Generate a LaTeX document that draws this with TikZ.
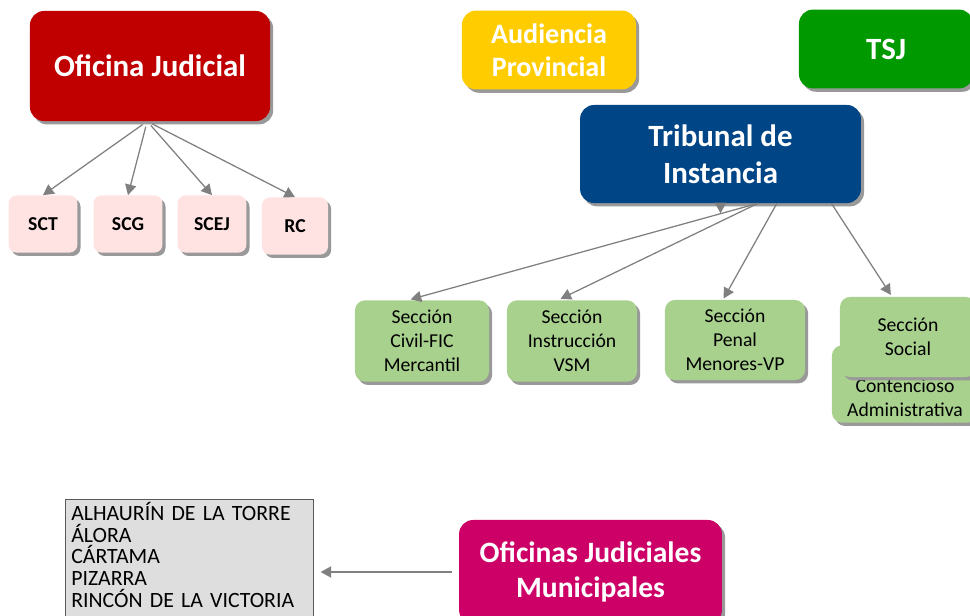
\documentclass[tikz,border=0pt]{standalone}
\usepackage{fontspec}
\setmainfont{Carlito}
\usetikzlibrary{arrows.meta,shadows}

\definecolor{rojoOJ}{HTML}{C00000}
\definecolor{rosaOJ}{HTML}{FFE3E3}
\definecolor{amarilloAP}{HTML}{FFCC00}
\definecolor{verdeTSJ}{HTML}{009900}
\definecolor{azulTI}{HTML}{004586}
\definecolor{verdeSec}{HTML}{A9D18E}
\definecolor{magentaOJM}{HTML}{CC0066}
\definecolor{grisLista}{HTML}{DEDEDE}

\tikzset{
	caja/.style={rounded corners=0.35cm, align=center, inner sep=0pt,
		drop shadow={shadow xshift=2.2pt, shadow yshift=-2.4pt, fill=black!40, opacity=1}},
	titulo/.style={caja, text=white, font=\bfseries\fontsize{22}{26.5}\selectfont},
	servicio/.style={caja, rounded corners=0.2cm, fill=rosaOJ, font=\bfseries\fontsize{14}{17}\selectfont,
		minimum width=1.72cm, minimum height=1.43cm},
	seccion/.style={caja, rounded corners=0.25cm, fill=verdeSec, font=\fontsize{14}{17}\selectfont,
		minimum height=2.03cm},
	flecha/.style={draw=black!50, line width=0.9pt, -{Triangle[width=8pt,length=7.5pt]}},
}

\begin{document}
\begin{tikzpicture}[x=0.025cm, y=-0.025cm]
	\useasboundingbox (0,0) rectangle (970,616);
	\clip (0,0) rectangle (970,616);
	
	% Oficina Judicial y sus servicios
	\node[titulo, fill=rojoOJ, minimum width=6cm, minimum height=2.75cm] (ofi) at (150,66) {Oficina Judicial};
	\node[servicio] (sct) at (43,224) {SCT};
	\node[servicio] (scg) at (128,224) {SCG};
	\node[servicio] (scej) at (212,224) {SCEJ};
	\node[servicio, minimum width=1.65cm] (rc) at (295,226) {RC};
	
	\foreach \s in {sct,scg,scej,rc}
		\draw[flecha, shorten <=4pt] ([xshift=-0.07cm]ofi.south) -- (\s.north);
	
	% organos
	\node[titulo, fill=amarilloAP, font=\bfseries\fontsize{20}{23.5}\selectfont,
		minimum width=4.35cm, minimum height=1.97cm] (ap) at (549,50) {Audiencia\\Provincial};
	\node[titulo, fill=verdeTSJ, minimum width=4.35cm, minimum height=1.97cm] (tsj) at (886,49) {TSJ};
	\node[titulo, fill=azulTI, minimum width=7.02cm, minimum height=2.45cm] (tribunal) at (720.5,154) {Tribunal de\\Instancia};
	
	% secciones
	\node[seccion, minimum width=3.35cm] (civil) at (422,341) {Sección\\Civil-FIC\\Mercantil};
	\node[seccion, minimum width=3.25cm] (instruccion) at (572,341) {Sección\\Instrucción\\VSM};
	\node[seccion, minimum width=3.5cm, minimum height=2cm] (penal) at (735,340) {Sección\\Penal\\Menores-VP};
	\node[seccion, minimum width=3.65cm, minimum height=1.93cm] (contencioso) at (905,384) {\strut\\Contencioso\\Administrativa};
	\node[seccion, minimum width=3.4cm, minimum height=2cm] (social) at (908,337) {Sección\\Social};
	
	\draw[flecha] (tribunal.south) -- ++(0,10);
	\draw[flecha, shorten >=2pt] ([xshift=0.94cm]tribunal.south) -- ([xshift=-0.35cm]civil.north);
	\draw[flecha, shorten >=2pt] ([xshift=0.94cm]tribunal.south) -- ([xshift=-0.35cm]instruccion.north);
	\draw[flecha, shorten >=1pt] ([xshift=1.41cm]tribunal.south) -- ([xshift=-0.3cm]penal.north);
	\draw[flecha, shorten >=1.5pt] ([xshift=2.77cm]tribunal.south) -- ([xshift=-0.4cm]social.north);
	
	% oficinas municipales
	\node[titulo, fill=magentaOJM, font=\bfseries\fontsize{21}{25}\selectfont,
		minimum width=6.57cm, minimum height=2.6cm] (municipales) at (590.5,572) {Oficinas Judiciales\\Municipales};
	\node[draw=black!65, fill=grisLista, anchor=north west, align=left, inner xsep=0.15cm, inner ysep=2pt,
		text width=5.9cm, font=\fontsize{15.5}{15.5}\selectfont] (lista) at (65,499)
		{ALHAURÍN DE LA TORRE\\ÁLORA\\CÁRTAMA\\PIZARRA\\RINCÓN DE LA VICTORIA\\\strut};
	\draw[flecha, shorten <=5pt, shorten >=5pt] (municipales.west) -- (municipales.west -| lista.east);
\end{tikzpicture}
\end{document}
